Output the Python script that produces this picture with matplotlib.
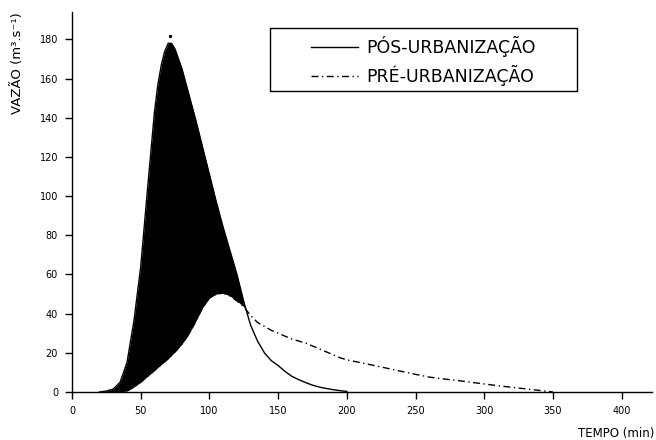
import numpy as np
import matplotlib
matplotlib.use("Agg")
import matplotlib.pyplot as plt
from matplotlib.patches import Rectangle

plt.rcParams['font.family'] = ['DejaVu Sans']

# Time (min)
tempo = [20, 25, 30, 35, 40, 45, 50, 55, 60, 62.5, 65, 67.5, 70, 72.5, 75,
         80, 85, 90, 95, 100, 105, 110, 115, 120, 125, 130, 135, 140, 145,
         150, 155, 160, 165, 170, 175, 180, 185, 190, 195, 200, 210, 220,
         230, 240, 250, 260, 270, 280, 290, 300, 310, 320, 330, 340, 350]

# Post-urbanization discharge (m3/s) - solid line
vazao_pos = [0, 0.5, 1.5, 5, 15, 36, 64, 104, 143, 157, 167, 174, 178,
             178, 175, 165, 152, 139, 125, 111, 97, 84, 72, 60, 46, 34, 26,
             20, 16, 13.5, 10.5, 8, 6.3, 4.8, 3.5, 2.5, 1.8, 1.2, 0.7, 0.3]

# Pre-urbanization discharge (m3/s) - dash-dot line
vazao_pre = [np.nan, np.nan, np.nan, np.nan, 0.5, 2.5, 5, 8, 11, 12.5, 14,
             15.5, 17, 18.8, 20.5, 24.5, 29.5, 36, 43, 48, 50, 50.5, 49,
             46.5, 43.5, 39, 35.5, 33.5, 31.5, 30, 28.5, 27, 26, 25, 23.5,
             22, 20.5, 19, 17.5, 16.4, 15, 13.5, 12, 10.5, 9, 7.6, 6.7, 5.9,
             5.0, 4.1, 3.2, 2.4, 1.6, 0.8, 0]

pico_t, pico_v = 71, 181.5

xticks = [0, 50, 100, 150, 200, 250, 300, 350, 400]
yticks = [0, 20, 40, 60, 80, 100, 120, 140, 160, 180]

fig = plt.figure(figsize=(6.56, 4.40), dpi=100)
ax = fig.add_axes([72/656, 48/440, (652-72)/656, (392-12)/440])

t = np.array(tempo, dtype=float)
pos = np.array(vazao_pos, dtype=float)
pre = np.array(vazao_pre, dtype=float)
n = len(pos)
pre0 = np.nan_to_num(pre[:n])

ax.fill_between(t[:n], pre0, pos, where=pos >= pre0,
                interpolate=True, color='black', lw=0)
ax.plot(t[:n], pos, color='black', lw=1.0, label='PÓS-URBANIZAÇÃO')
ls_pre = (0, (5, 2.5, 1, 2.5))
ax.plot(t, pre, color='black', lw=1.0, ls=ls_pre, label='PRÉ-URBANIZAÇÃO')
ax.plot([pico_t], [pico_v], marker='s', ms=1.2, color='black', lw=0)

ax.set_xlim(0, 422)
ax.set_ylim(0, 194)
ax.set_xticks(xticks)
ax.set_yticks(yticks)
ax.spines['top'].set_visible(False)
ax.spines['right'].set_visible(False)
ax.spines['left'].set_linewidth(1.0)
ax.spines['bottom'].set_linewidth(1.0)
ax.tick_params(direction='out', length=5, width=1.0, labelsize=7, pad=5)

fig.text(18/656, 1 - 63/440, 'VAZÃO (m³.s⁻¹)', rotation=90, ha='center',
         va='center', fontsize=9.5)
fig.text(654/656, 1 - 433/440, 'TEMPO (min)', ha='right', va='center',
         fontsize=8.5)

# legend box
fig.patches.append(Rectangle((270/656, 1 - 91/440), (577-270)/656, (91-28)/440,
                             transform=fig.transFigure, fill=False,
                             edgecolor='black', lw=1.0))
leg = ax.legend(loc='center', bbox_to_anchor=((270+577)/2/656, 1 - 61/440),
                bbox_transform=fig.transFigure, frameon=False, fontsize=12.5,
                handlelength=2.7, handletextpad=0.5, labelspacing=0.5,
                borderpad=0)

fig.savefig('out.png', dpi=100)
